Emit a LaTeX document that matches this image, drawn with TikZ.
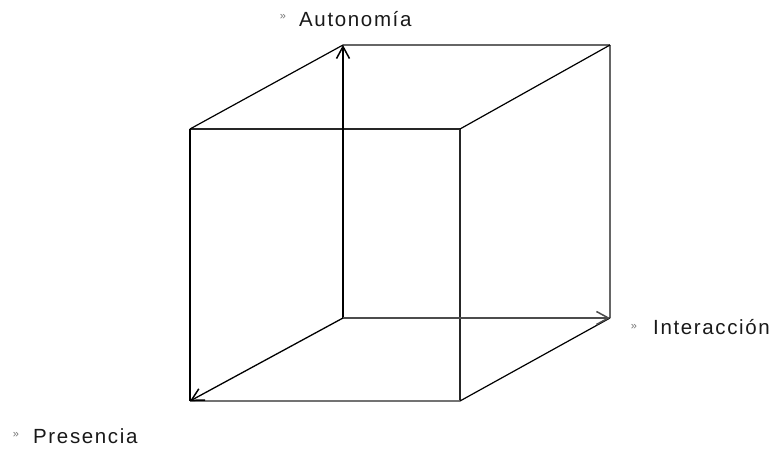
\documentclass[tikz,border=0pt]{standalone}
\usepackage{fontspec}
\setmainfont{Liberation Sans}
\usetikzlibrary{arrows.meta}
\begin{document}
\begin{tikzpicture}[x=1pt,y=-1pt,
  edge/.style={line width=1.2pt,draw=black!85},
  axis/.style={line width=1.3pt,draw=black,-{Straight Barb[length=12pt,width=13pt,line width=1.5pt]}},
  lbl/.style={font=\fontsize{20.5}{22}\selectfont\addfontfeature{LetterSpace=8},anchor=west,text=black!90,inner sep=0pt},
  bulletmark/.style={font=\fontsize{11}{11}\selectfont,text=black!55,inner sep=0pt}]
\useasboundingbox (0,0) rectangle (774,452);
% back face
\coordinate (btl) at (343,45);
\coordinate (btr) at (610,45);
\coordinate (bbr) at (610,318);
\coordinate (bbl) at (343,318);
% front face
\coordinate (ftl) at (190,129);
\coordinate (ftr) at (460,129);
\coordinate (fbr) at (460,401);
\coordinate (fbl) at (190,401);
% edges
\draw[edge,draw=black!60,line width=1.8pt] (btl) -- (btr);
\draw[edge,draw=black!60] (btr) -- (bbr);
\draw[edge] (ftl) -- (ftr) -- (fbr);
\draw[edge,draw=black!55] (fbr) -- (fbl);
\draw[edge,line width=1.8pt,draw=black] (fbl) -- (ftl);
\draw[edge,draw=black] (ftl) -- (btl);
\draw[edge,draw=black] (ftr) -- (btr);
\draw[edge,draw=black] (fbr) -- (bbr);
% axes
\draw[axis] (bbl) -- (btl);
\draw[axis,draw=black!70] (bbl) -- (bbr);
\draw[axis] (bbl) -- (fbl);
% labels
\node[bulletmark] (m1) at (283,17) {»};
\node[lbl] (aut) at (299,19) {Autonomía};
\node[bulletmark] (m2) at (634,327) {»};
\node[lbl] (int) at (653,327) {Interacción};
\node[bulletmark] (m3) at (16,435) {»};
\node[lbl] (pre) at (33,436) {Presencia};
\end{tikzpicture}
\end{document}
